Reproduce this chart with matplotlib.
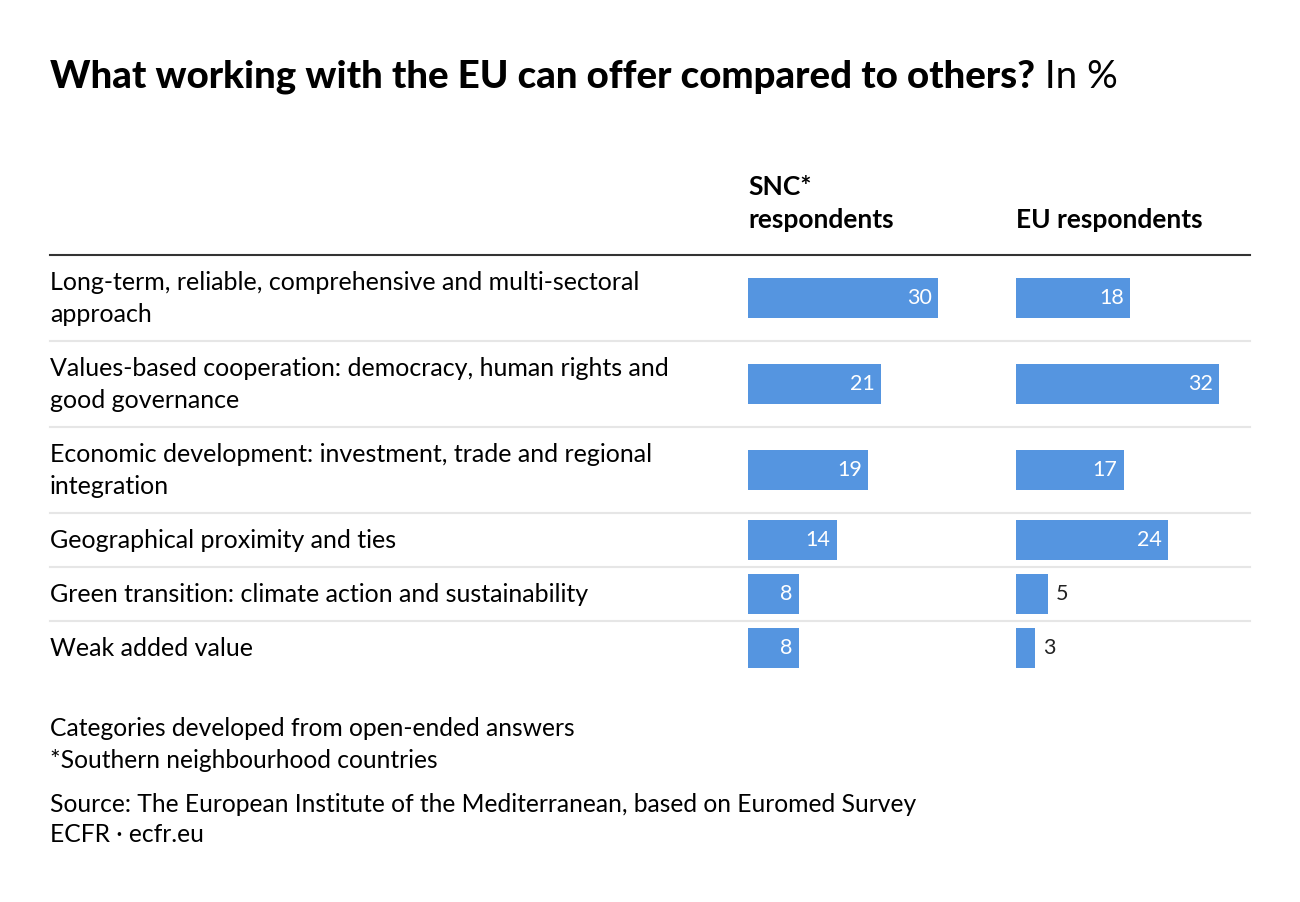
import matplotlib.pyplot as plt

categories = [
    "Long-term, reliable, comprehensive and multi-sectoral\napproach",
    "Values-based cooperation: democracy, human rights and\ngood governance",
    "Economic development: investment, trade and regional\nintegration",
    "Geographical proximity and ties",
    "Green transition: climate action and sustainability",
    "Weak added value",
]
snc = [30, 21, 19, 14, 8, 8]
eu = [18, 32, 17, 24, 5, 3]
col_titles = ["SNC*\nrespondents", "EU respondents"]

title = "What working with the EU can offer compared to others?"
subtitle = " In %"
notes = ["Categories developed from open-ended answers",
         "*Southern neighbourhood countries"]
source = ["Source: The European Institute of the Mediterranean, based on Euromed Survey",
          "ECFR \u00b7 ecfr.eu"]

BLUE = "#5595e0"
W, H = 1300, 902
FS = 18
plt.rcParams['font.family'] = ['Lato', 'DejaVu Sans']

fig = plt.figure(figsize=(W / 100, H / 100), dpi=100)
fig.patch.set_facecolor("white")


def px(x, y):
    return x / W, 1 - y / H


def txt(x, y, s, **kw):
    fig.text(*px(x, y), s, va="center", **kw)


# title
t = fig.text(*px(50, 77), title, fontsize=27.6, fontweight="black", va="center")
fig.canvas.draw()
bb = t.get_window_extent()
fig.text(bb.x1 / W, 1 - 77 / H, subtitle, fontsize=27.6, va="center")

# column headers
hdr1 = col_titles[0].split("\n")
txt(748, 187, hdr1[0], fontsize=19, fontweight="bold")
txt(748, 220, hdr1[1], fontsize=19, fontweight="bold")
txt(1016, 220, col_titles[1], fontsize=19, fontweight="bold")

# full-figure axis for rules
base = fig.add_axes([0, 0, 1, 1])
base.set_xlim(0, W)
base.set_ylim(H, 0)
base.axis("off")
base.plot([50, 1250], [255, 255], color="#333333", lw=1.5)

# row layout
top = 255
centers = []
for i, lab in enumerate(categories):
    lines = lab.split("\n")
    h = 86 if len(lines) == 2 else 54
    c = top + h / 2
    centers.append(c)
    if len(lines) == 2:
        txt(50, c - 16, lines[0], fontsize=FS)
        txt(50, c + 16, lines[1], fontsize=FS)
    else:
        txt(50, c, lines[0], fontsize=FS)
    top += h
    if i < len(categories) - 1:
        base.plot([50, 1250], [top, top], color="#e6e6e6", lw=1.5)

scale = 190 / 30  # px per percent
for left, vals in [(748, snc), (1016, eu)]:
    width = 250
    ax = fig.add_axes([left / W, 0, width / W, 1])
    ax.set_xlim(0, width / scale)
    ax.set_ylim(H, 0)
    ax.axis("off")
    ax.barh(centers, vals, height=40, color=BLUE)
    for c, v in zip(centers, vals):
        if v >= 8:
            ax.text(v - 6 / scale, c, str(v), color="white", ha="right",
                    va="center", fontsize=15.5)
        else:
            ax.text(v + 8 / scale, c, str(v), color="#222222", ha="left",
                    va="center", fontsize=15.5)

# footer
txt(50, 729, notes[0], fontsize=17.7)
txt(50, 761, notes[1], fontsize=17.7)
txt(50, 804, source[0], fontsize=17.7)
txt(50, 835, source[1], fontsize=17.7)

fig.savefig("out.png", dpi=100)
